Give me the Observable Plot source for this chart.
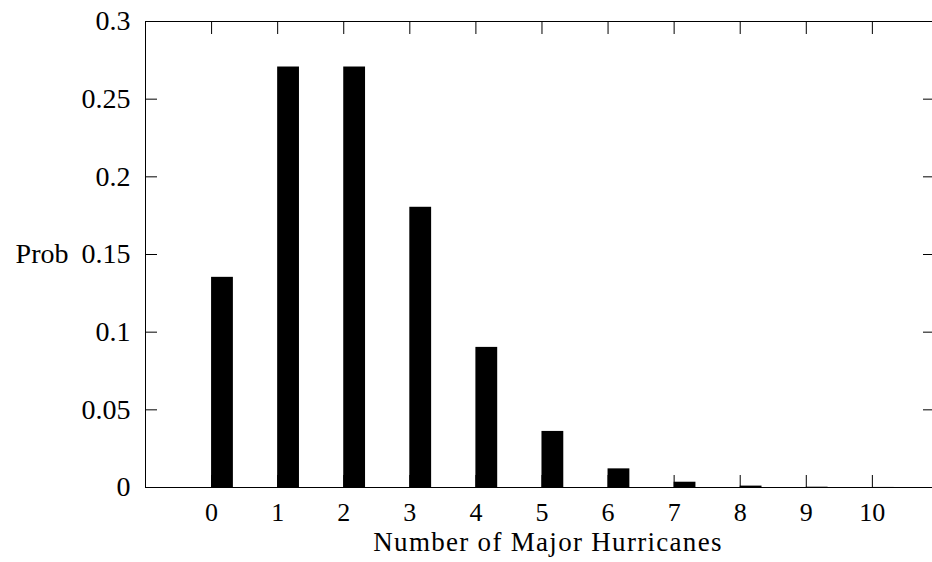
<!DOCTYPE html>
<html>
<head>
<meta charset="utf-8">
<script src="https://cdn.jsdelivr.net/npm/d3@7"></script>
<script src="https://cdn.jsdelivr.net/npm/@observablehq/plot@0.6"></script>
<style>
  html, body { margin: 0; padding: 0; background: #fff; overflow: hidden; }
  #chart svg { display: block; }
</style>
</head>
<body>
<div id="chart"></div>
<script>
// Data: Poisson-like probabilities of number of major hurricanes
const counts = [0, 1, 2, 3, 4, 5, 6, 7, 8, 9, 10];
const probs = [0.1353, 0.2707, 0.2707, 0.1804, 0.0902, 0.0361, 0.0120, 0.0034, 0.0009, 0.0002, 0.00004];
const yTicks = [0, 0.05, 0.1, 0.15, 0.2, 0.25, 0.3];
const xLabel = "Number of Major Hurricanes";
const yLabel = "Prob";

const data = counts.map((k, i) => ({k, p: probs[i]}));
const barWidth = 0.33;

const W = 932, H = 562;
const mL = 145, mR = 0, mT = 21, mB = 75;
const innerW = W - mL - mR, innerH = H - mT - mB;
const font = "'Liberation Serif', 'Times New Roman', serif";
const fs = 28;

const chart = Plot.plot({
  width: W,
  height: H,
  marginLeft: mL,
  marginRight: mR,
  marginTop: mT,
  marginBottom: mB,
  style: {fontFamily: font, fontSize: fs + "px", color: "#000", background: "#fff"},
  x: {domain: [-1, 10.91]},
  y: {domain: [0, 0.3]},
  marks: [
    Plot.rectY(data, {x1: "k", x2: d => d.k + barWidth, y1: 0, y2: "p", fill: "#000"}),
    // frame (top, bottom, left)
    Plot.ruleY([0.3], {stroke: "#000", strokeWidth: 1}),
    Plot.ruleY([0], {stroke: "#000", strokeWidth: 1}),
    Plot.ruleX([-1], {stroke: "#000", strokeWidth: 1}),
    // inward ticks
    Plot.ruleX(counts, {x: d => d, insetBottom: innerH - 13, stroke: "#000", strokeWidth: 1}),
    Plot.ruleX(counts, {x: d => d, insetTop: innerH - 12, stroke: "#000", strokeWidth: 1}),
    Plot.ruleY(yTicks, {y: d => d, insetRight: innerW - 12, stroke: "#000", strokeWidth: 1}),
    Plot.ruleY(yTicks, {y: d => d, insetLeft: innerW - 9, stroke: "#000", strokeWidth: 1}),
    Plot.axisX(counts, {tickSize: 0, tickPadding: 15, label: null, fontSize: 26, fontFamily: font}),
    Plot.axisY(yTicks, {tickSize: 0, tickPadding: 15, label: null, fontSize: fs, fontFamily: font,
      tickFormat: d => String(+d.toFixed(2))}),
    Plot.text([xLabel], {frameAnchor: "bottom", dy: 63, dx: 9, fontSize: 27, fontFamily: font, fill: "#000"}),
    Plot.text([yLabel], {frameAnchor: "left", dx: -77, textAnchor: "end", fontSize: fs, fontFamily: font, fill: "#000"})
  ]
});
// widen the axis title slightly to match the reference's wider serif face
d3.select(chart).selectAll("text")
  .filter(function() { return this.textContent === xLabel; })
  .style("letter-spacing", "1.3px");
document.getElementById("chart").appendChild(chart);
</script>
</body>
</html>
